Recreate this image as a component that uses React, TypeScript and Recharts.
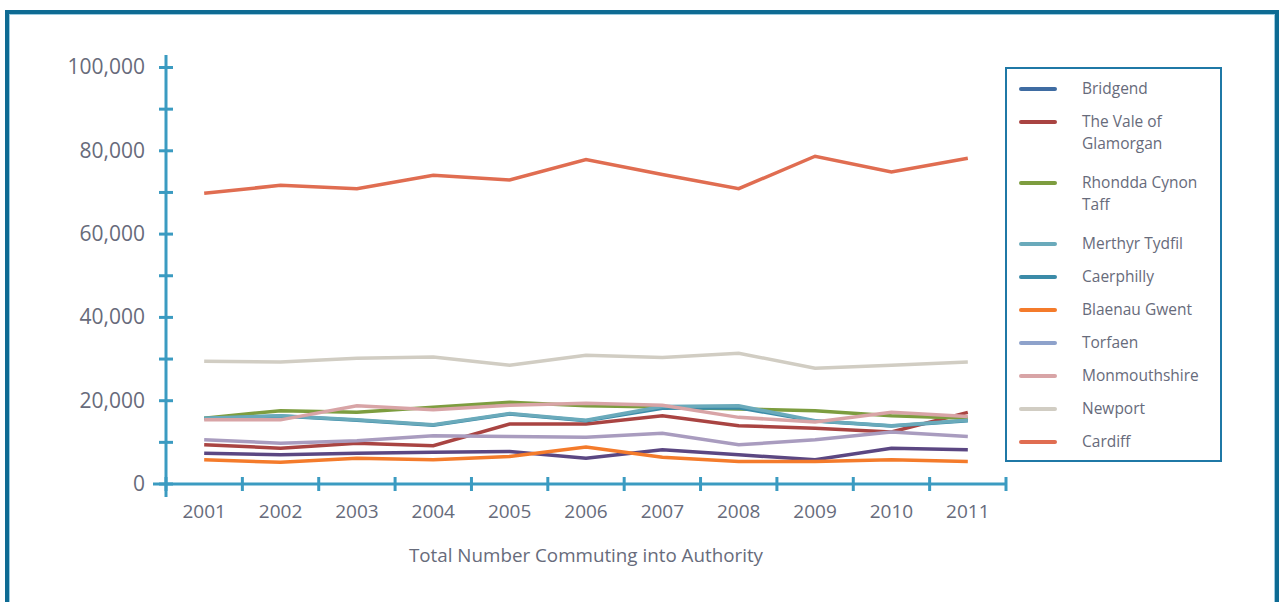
import React from "react";
import { LineChart, Line, XAxis, YAxis, Legend, Label } from "recharts";

// values
const years = ["2001", "2002", "2003", "2004", "2005", "2006", "2007", "2008", "2009", "2010", "2011"];
const bridgend = [7400, 7000, 7400, 7600, 7800, 6200, 8200, 7000, 5800, 8600, 8200];
const valeOfGlamorgan = [9400, 8600, 9800, 9200, 14400, 14400, 16400, 14000, 13400, 12500, 17200];
const rhonddaCynonTaff = [15800, 17600, 17200, 18400, 19600, 18800, 18500, 18000, 17600, 16400, 15800];
const merthyrTydfil = [15800, 16400, 15400, 14200, 16900, 15300, 18600, 18800, 15200, 14000, 15300];
const caerphilly = [15700, 16300, 15300, 14100, 16800, 15200, 18200, 18300, 15100, 13900, 15200];
const blaenauGwent = [5800, 5200, 6200, 5800, 6600, 8900, 6400, 5400, 5400, 5800, 5400];
const torfaen = [10600, 9800, 10400, 11600, 11400, 11200, 12200, 9400, 10600, 12500, 11400];
const monmouthshire = [15400, 15400, 18800, 17800, 18900, 19400, 18900, 16000, 14900, 17200, 16200];
const newport = [29500, 29300, 30200, 30500, 28500, 30900, 30400, 31400, 27800, 28500, 29300];
const cardiff = [69800, 71700, 70900, 74100, 73000, 77900, 74300, 70900, 78700, 74900, 78200];

const yTicks = [0, 10000, 20000, 30000, 40000, 50000, 60000, 70000, 80000, 90000, 100000];

const seriesKeys = [
  "bridgend",
  "valeOfGlamorgan",
  "rhonddaCynonTaff",
  "merthyrTydfil",
  "caerphilly",
  "blaenauGwent",
  "torfaen",
  "monmouthshire",
  "newport",
  "cardiff",
];
const seriesNames = [
  "Bridgend",
  "The Vale of Glamorgan",
  "Rhondda Cynon Taff",
  "Merthyr Tydfil",
  "Caerphilly",
  "Blaenau Gwent",
  "Torfaen",
  "Monmouthshire",
  "Newport",
  "Cardiff",
];
const seriesValues = [
  bridgend,
  valeOfGlamorgan,
  rhonddaCynonTaff,
  merthyrTydfil,
  caerphilly,
  blaenauGwent,
  torfaen,
  monmouthshire,
  newport,
  cardiff,
];

// line colours as drawn in the plot, and the (slightly different) legend swatches
const lineColors = ["#5b4782", "#a94442", "#7d9d3f", "#6aaabb", "#3b8ba8", "#f47b2b", "#a99cbf", "#d8a4a6", "#d1cdc3", "#e06d51"];
const legendColors = ["#3f6ca2", "#a94442", "#7d9d3f", "#6aaabb", "#3b8ba8", "#f47b2b", "#8ea2cb", "#d8a4a6", "#d1cdc3", "#e06d51"];
// caerphilly sits underneath merthyr tydfil in the plot
const drawOrder = [0, 1, 2, 4, 3, 5, 6, 7, 8, 9];

const data = years.map((year, i) => {
  const row: Record<string, string | number> = { year };
  seriesKeys.forEach((key, s) => {
    row[key] = seriesValues[s][i];
  });
  return row;
});

const FONT = "'Open Sans', 'Noto Sans', sans-serif";
const AXIS = "#3b9bc1";
const TEXT = "#676b7b";

const CHART_W = 1280;
const CHART_H = 602;
const PLOT_LEFT = 166;
const PLOT_RIGHT = 1006;
const PLOT_TOP = 55;
const PLOT_BOTTOM = 484;
const Y_AXIS_W = 80;
const X_AXIS_H = 45;
const BAND = (PLOT_RIGHT - PLOT_LEFT) / years.length;

const XTick = (props: any) => {
  const { x, y, payload, index } = props;
  const half = BAND / 2;
  return (
    <g>
      <line x1={x - half} x2={x - half} y1={y - 7} y2={y + 7} stroke={AXIS} strokeWidth={3} />
      {index === years.length - 1 && (
        <line x1={x + half} x2={x + half} y1={y - 7} y2={y + 7} stroke={AXIS} strokeWidth={3} />
      )}
      {index === 0 && <line x1={x - half - 13} x2={x - half} y1={y} y2={y} stroke={AXIS} strokeWidth={3} />}
      <text x={x} y={y + 34} textAnchor="middle" fill={TEXT} fontSize={19} fontFamily={FONT}>
        {payload.value}
      </text>
    </g>
  );
};

const YTick = (props: any) => {
  const { x, y, payload } = props;
  const v = Number(payload.value);
  return (
    <g>
      <line x1={x - 7} x2={x + 7} y1={y} y2={y} stroke={AXIS} strokeWidth={3} />
      {v === 0 && <line x1={x} x2={x} y1={y} y2={y + 13} stroke={AXIS} strokeWidth={3} />}
      {v % 20000 === 0 && (
        <text x={x - 21} y={y + 7} textAnchor="end" fill={TEXT} fontSize={21} fontFamily={FONT}>
          {v.toLocaleString("en-US")}
        </text>
      )}
    </g>
  );
};

const LegendBox = (props: any) => {
  const payload = [...(props.payload || [])].sort(
    (a: any, b: any) => seriesKeys.indexOf(String(a.dataKey)) - seriesKeys.indexOf(String(b.dataKey))
  );
  return (
    <div
      style={{
        width: 217,
        height: 395,
        boxSizing: "border-box",
        border: "2px solid #1f78a6",
        background: "#fff",
        paddingTop: 9,
        fontFamily: FONT,
        fontSize: 15.5,
        color: TEXT,
      }}
    >
      {payload.map((entry: any) => {
        const idx = seriesKeys.indexOf(String(entry.dataKey));
        const words = String(entry.value).split(" ").length;
        return (
          <div
            key={entry.dataKey}
            style={{ display: "flex", alignItems: "flex-start", marginBottom: words > 2 ? 18 : 11.5 }}
          >
            <span
              style={{
                width: 38,
                height: 4,
                borderRadius: 2,
                background: legendColors[idx],
                marginLeft: 12,
                marginTop: 9,
                flexShrink: 0,
              }}
            />
            <span style={{ marginLeft: 25, width: 126, lineHeight: "21.5px" }}>{entry.value}</span>
          </div>
        );
      })}
    </div>
  );
};

export default function App() {
  return (
    <div style={{ position: "absolute", left: 0, top: 0, width: CHART_W, height: CHART_H, background: "#fff", overflow: "hidden" }}>
      <div
        style={{
          position: "absolute",
          left: 5,
          top: 10,
          width: 1274,
          height: 640,
          boxSizing: "border-box",
          border: "4px solid #0e6b93",
          boxShadow: "inset 0 0 0 1px #9ccbe0",
        }}
      />
      <div style={{ position: "absolute", left: 0, top: 0 }}>
        <LineChart
          width={CHART_W}
          height={CHART_H}
          data={data}
          margin={{
            top: PLOT_TOP,
            left: PLOT_LEFT - Y_AXIS_W,
            right: CHART_W - PLOT_RIGHT,
            bottom: CHART_H - PLOT_BOTTOM - X_AXIS_H,
          }}
        >
          <XAxis
            dataKey="year"
            height={X_AXIS_H}
            padding={{ left: BAND / 2, right: BAND / 2 }}
            interval={0}
            tickSize={0}
            tickMargin={0}
            tickLine={false}
            axisLine={{ stroke: AXIS, strokeWidth: 3 }}
            tick={<XTick />}
          >
            <Label
              value="Total Number Commuting into Authority"
              position="bottom"
              offset={20}
              fill={TEXT}
              fontSize={18.8}
              fontFamily={FONT}
            />
          </XAxis>
          <YAxis
            width={Y_AXIS_W}
            domain={[0, 103000]}
            ticks={yTicks}
            interval={0}
            tickSize={0}
            tickMargin={0}
            tickLine={false}
            axisLine={{ stroke: AXIS, strokeWidth: 3 }}
            tick={<YTick />}
          />
          {drawOrder.map((s) => (
            <Line
              key={seriesKeys[s]}
              type="linear"
              dataKey={seriesKeys[s]}
              name={seriesNames[s]}
              stroke={lineColors[s]}
              strokeWidth={3.5}
              dot={false}
              activeDot={false}
              isAnimationActive={false}
            />
          ))}
          <Legend
            layout="vertical"
            align="center"
            verticalAlign="middle"
            content={<LegendBox />}
            wrapperStyle={{ left: 1005, top: 67, width: 217, height: 395 }}
          />
        </LineChart>
      </div>
    </div>
  );
}
